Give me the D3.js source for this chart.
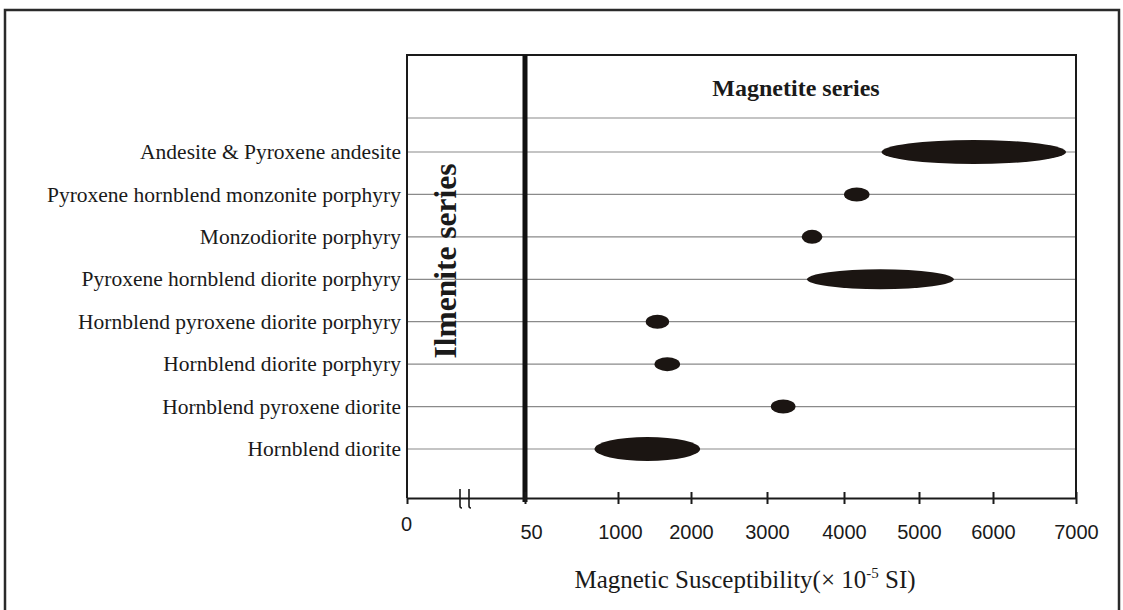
<!DOCTYPE html>
<html>
<head>
<meta charset="utf-8">
<script src="https://cdn.jsdelivr.net/npm/d3@7"></script>
<style>
  body { margin: 0; background: #fff; }
  text { font-family: "Liberation Serif", "Times New Roman", serif; fill: #1a1a1a; }
</style>
</head>
<body>
<svg id="chart" width="1123" height="610"></svg>
<script>
// rock types, top to bottom
var rocks = ["Andesite & Pyroxene andesite",
             "Pyroxene hornblend monzonite porphyry",
             "Monzodiorite porphyry",
             "Pyroxene hornblend diorite porphyry",
             "Hornblend pyroxene diorite porphyry",
             "Hornblend diorite porphyry",
             "Hornblend pyroxene diorite",
             "Hornblend diorite"];
// susceptibility range of each rock (x 10^-5 SI)
var lowVals  = [4500, 4000, 3450, 3520, 1380, 1500, 3050, 760];
var highVals = [6880, 4340, 3720, 5470, 1700, 1850, 3370, 2120];
var tickVals = [0, 50, 1000, 2000, 3000, 4000, 5000, 6000, 7000];
var splitValue = 50;

function makeChart(){
    var svg = d3.select("#chart");
    var left = 407, right = 1076, top = 55, bottom = 498;

    // broken axis: 0-50 gets its own stretch, then 1000..7000
    var scX = d3.scaleLinear()
                .domain([0, 50, 1000, 2000, 3000, 4000, 5000, 6000, 7000])
                .range([left, left+118, left+211, left+284, left+360, left+437, left+512, left+586, right]);
    var scY = d3.scalePoint().domain(rocks).range([152, 449]);
    var rys = [12, 7, 7, 10, 7, 7, 7, 12];

    // outer figure frame
    svg.append("rect")
        .attr("x", 5).attr("y", 10).attr("width", 1114).attr("height", 640)
        .attr("fill", "none").attr("stroke", "#2a2a2a").attr("stroke-width", 2.5);

    // grid lines
    svg.append("line")
        .attr("x1", left).attr("x2", right)
        .attr("y1", 118).attr("y2", 118)
        .attr("stroke", "#8a8a8a").attr("stroke-width", 1.2);
    svg.append("g").selectAll("line")
        .data(rocks).enter().append("line")
        .attr("x1", left).attr("x2", right)
        .attr("y1", d => scY(d)).attr("y2", d => scY(d))
        .attr("stroke", "#8a8a8a").attr("stroke-width", 1.2);

    // plot frame
    svg.append("path")
        .attr("d", "M" + left + "," + bottom + "V" + top + "H" + right + "V" + bottom)
        .attr("fill", "none").attr("stroke", "#1a1a1a").attr("stroke-width", 2);

    // ilmenite / magnetite split
    svg.append("line")
        .attr("x1", scX(splitValue)).attr("x2", scX(splitValue))
        .attr("y1", top).attr("y2", bottom + 4)
        .attr("stroke", "#111").attr("stroke-width", 5);

    // ellipses
    svg.append("g").selectAll("ellipse")
        .data(rocks).enter().append("ellipse")
        .attr("cx", (d,i) => (scX(lowVals[i]) + scX(highVals[i])) / 2)
        .attr("cy", d => scY(d))
        .attr("rx", (d,i) => (scX(highVals[i]) - scX(lowVals[i])) / 2)
        .attr("ry", (d,i) => rys[i])
        .attr("fill", "#1b1512");

    // rock labels
    svg.append("g").selectAll("text")
        .data(rocks).enter().append("text")
        .attr("x", left - 6)
        .attr("y", d => scY(d))
        .attr("dy", "0.33em")
        .attr("text-anchor", "end")
        .style("font-size", "21.5px")
        .text(d => d);

    // x axis
    var xAxis = svg.append("g")
                    .attr("transform", "translate(0," + bottom + ")")
                    .call(d3.axisBottom(scX).tickValues(tickVals).tickSizeInner(6).tickSizeOuter(0).tickFormat(d3.format("d")));
    xAxis.select(".domain").attr("stroke", "#1a1a1a").attr("stroke-width", 2);
    xAxis.selectAll(".tick line")
        .attr("y1", d => d === 0 ? 0 : -6)
        .attr("y2", 6)
        .attr("stroke", "#1a1a1a").attr("stroke-width", 2);
    xAxis.selectAll(".tick text")
        .attr("y", d => d === 0 ? 19 : 27)
        .attr("dx", d => d === 0 ? -1 : (d === 50 ? 6 : (d === 1000 ? 2 : 0)))
        .style("font-family", "'Liberation Sans', Arial, sans-serif")
        .style("font-size", "20px")
        .attr("fill", "#222");

    // axis break marks
    [53, 62].forEach(function(off){
        svg.append("path")
            .attr("d", "M" + (left+off) + "," + (bottom-9) + "V" + (bottom+8) + "q0,2 2,2")
            .attr("fill", "none").attr("stroke", "#1a1a1a").attr("stroke-width", 1.6);
    });

    // series labels
    svg.append("text")
        .attr("x", 796).attr("y", 96)
        .attr("text-anchor", "middle")
        .style("font-size", "24px").style("font-weight", "bold")
        .text("Magnetite series");

    svg.append("text")
        .attr("transform", "translate(456,261) rotate(-90)")
        .attr("text-anchor", "middle")
        .style("font-size", "31.5px").style("font-weight", "bold")
        .text("Ilmenite series");

    // axis title
    var title = svg.append("text")
                    .attr("x", 745).attr("y", 588)
                    .attr("text-anchor", "middle")
                    .style("font-size", "25px");
    title.append("tspan").text("Magnetic Susceptibility(× 10");
    title.append("tspan").attr("dy", -10).style("font-size", "15px").text("-5");
    title.append("tspan").attr("dy", 10).text(" SI)");
}

makeChart();
</script>
</body>
</html>
